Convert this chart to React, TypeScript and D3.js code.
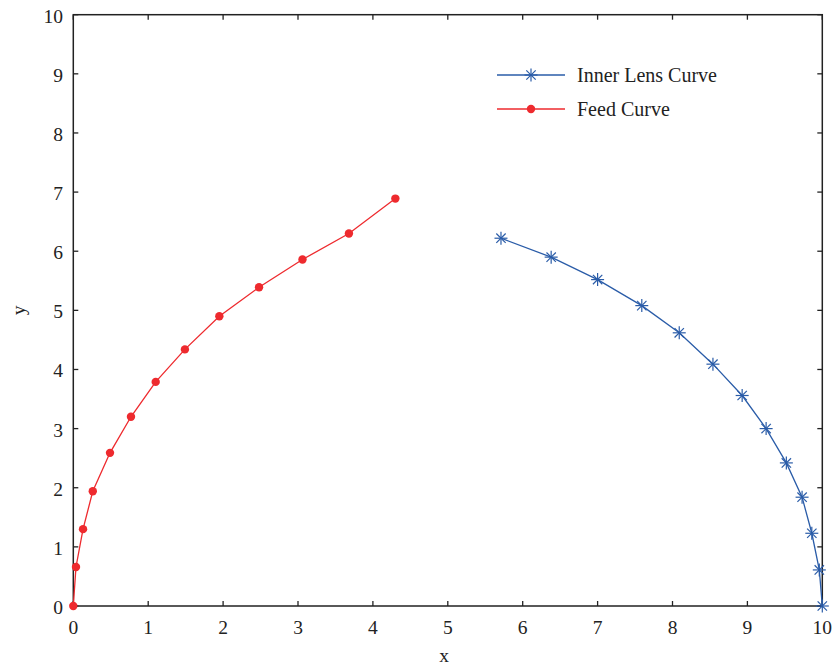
import React from "react";
import * as d3 from "d3";

// Inner lens curve samples
const lensX = [5.71, 6.38, 7.0, 7.59, 8.09, 8.54, 8.93, 9.25, 9.52, 9.73, 9.86, 9.96, 10.0];
const lensY = [6.22, 5.9, 5.52, 5.08, 4.62, 4.09, 3.56, 3.0, 2.42, 1.84, 1.23, 0.61, 0.0];

// Feed curve samples
const feedX = [0, 0.036, 0.13, 0.26, 0.49, 0.77, 1.1, 1.49, 1.95, 2.48, 3.06, 3.68, 4.3];
const feedY = [0, 0.66, 1.3, 1.94, 2.59, 3.2, 3.79, 4.34, 4.9, 5.39, 5.86, 6.3, 6.89];

const xTicks = [0, 1, 2, 3, 4, 5, 6, 7, 8, 9, 10];
const yTicks = [0, 1, 2, 3, 4, 5, 6, 7, 8, 9, 10];

const seriesNames = ["Inner Lens Curve", "Feed Curve"];

const W = 836;
const H = 667;
const M = { left: 73.3, right: 822.3, top: 14.7, bottom: 606 };
const BLUE = "#2a5ca8";
const RED = "#ee2a2e";
const FONT = "'Liberation Serif', 'Times New Roman', serif";

const x = d3.scaleLinear().domain([0, 10]).range([M.left, M.right]);
const y = d3.scaleLinear().domain([0, 10]).range([M.bottom, M.top]);

const line = d3
  .line<[number, number]>()
  .x((d) => x(d[0]))
  .y((d) => y(d[1]));

function Asterisk({ cx, cy, r, color }: { cx: number; cy: number; r: number; color: string }) {
  const d = r * 0.72;
  return (
    <g stroke={color} strokeWidth={1.2}>
      <line x1={cx - r} y1={cy} x2={cx + r} y2={cy} />
      <line x1={cx} y1={cy - r} x2={cx} y2={cy + r} />
      <line x1={cx - d} y1={cy - d} x2={cx + d} y2={cy + d} />
      <line x1={cx - d} y1={cy + d} x2={cx + d} y2={cy - d} />
    </g>
  );
}

export default function App() {
  const lens: [number, number][] = lensX.map((v, i) => [v, lensY[i]]);
  const feed: [number, number][] = feedX.map((v, i) => [v, feedY[i]]);
  const tk = 5;

  return (
    <svg
      width={W}
      height={H}
      style={{ position: "absolute", left: 0, top: 0, background: "#fff" }}
      fontFamily={FONT}
    >
      {/* frame */}
      <rect
        x={M.left}
        y={M.top}
        width={M.right - M.left}
        height={M.bottom - M.top}
        fill="none"
        stroke="#222"
        strokeWidth={1.5}
      />
      {/* inward ticks on all sides */}
      {xTicks.map((t) => (
        <g key={"xt" + t} stroke="#222" strokeWidth={1.3}>
          <line x1={x(t)} y1={M.bottom} x2={x(t)} y2={M.bottom - tk} />
          <line x1={x(t)} y1={M.top} x2={x(t)} y2={M.top + tk} />
        </g>
      ))}
      {yTicks.map((t) => (
        <g key={"yt" + t} stroke="#222" strokeWidth={1.3}>
          <line x1={M.left} y1={y(t)} x2={M.left + tk} y2={y(t)} />
          <line x1={M.right} y1={y(t)} x2={M.right - tk} y2={y(t)} />
        </g>
      ))}
      {/* tick labels */}
      {xTicks.map((t) => (
        <text key={"xl" + t} x={x(t)} y={634} textAnchor="middle" fontSize={19.5} fill="#222">
          {t}
        </text>
      ))}
      {yTicks.map((t) => (
        <text key={"yl" + t} x={63} y={y(t) + 8} textAnchor="end" fontSize={19.5} fill="#222">
          {t}
        </text>
      ))}
      {/* axis titles */}
      <text x={444} y={662} textAnchor="middle" fontSize={19.5} fill="#222">
        x
      </text>
      <text
        transform={`translate(25, ${(M.top + M.bottom) / 2}) rotate(-90)`}
        textAnchor="middle"
        fontSize={19.5}
        fill="#222"
      >
        y
      </text>

      {/* feed curve */}
      <path d={line(feed) ?? ""} fill="none" stroke={RED} strokeWidth={1.3} />
      {feed.map((d, i) => (
        <circle key={"f" + i} cx={x(d[0])} cy={y(d[1])} r={4.2} fill={RED} />
      ))}

      {/* inner lens curve */}
      <path d={line(lens) ?? ""} fill="none" stroke={BLUE} strokeWidth={1.3} />
      {lens.map((d, i) => (
        <Asterisk key={"l" + i} cx={x(d[0])} cy={y(d[1])} r={6.5} color={BLUE} />
      ))}

      {/* legend */}
      <g>
        <line x1={497} y1={75} x2={565} y2={75} stroke={BLUE} strokeWidth={1.3} />
        <Asterisk cx={531} cy={75} r={6.5} color={BLUE} />
        <text x={577} y={81.5} fontSize={20} fill="#222">
          {seriesNames[0]}
        </text>
        <line x1={497} y1={109} x2={565} y2={109} stroke={RED} strokeWidth={1.3} />
        <circle cx={531} cy={109} r={4.2} fill={RED} />
        <text x={577} y={115.5} fontSize={20} fill="#222">
          {seriesNames[1]}
        </text>
      </g>
    </svg>
  );
}
